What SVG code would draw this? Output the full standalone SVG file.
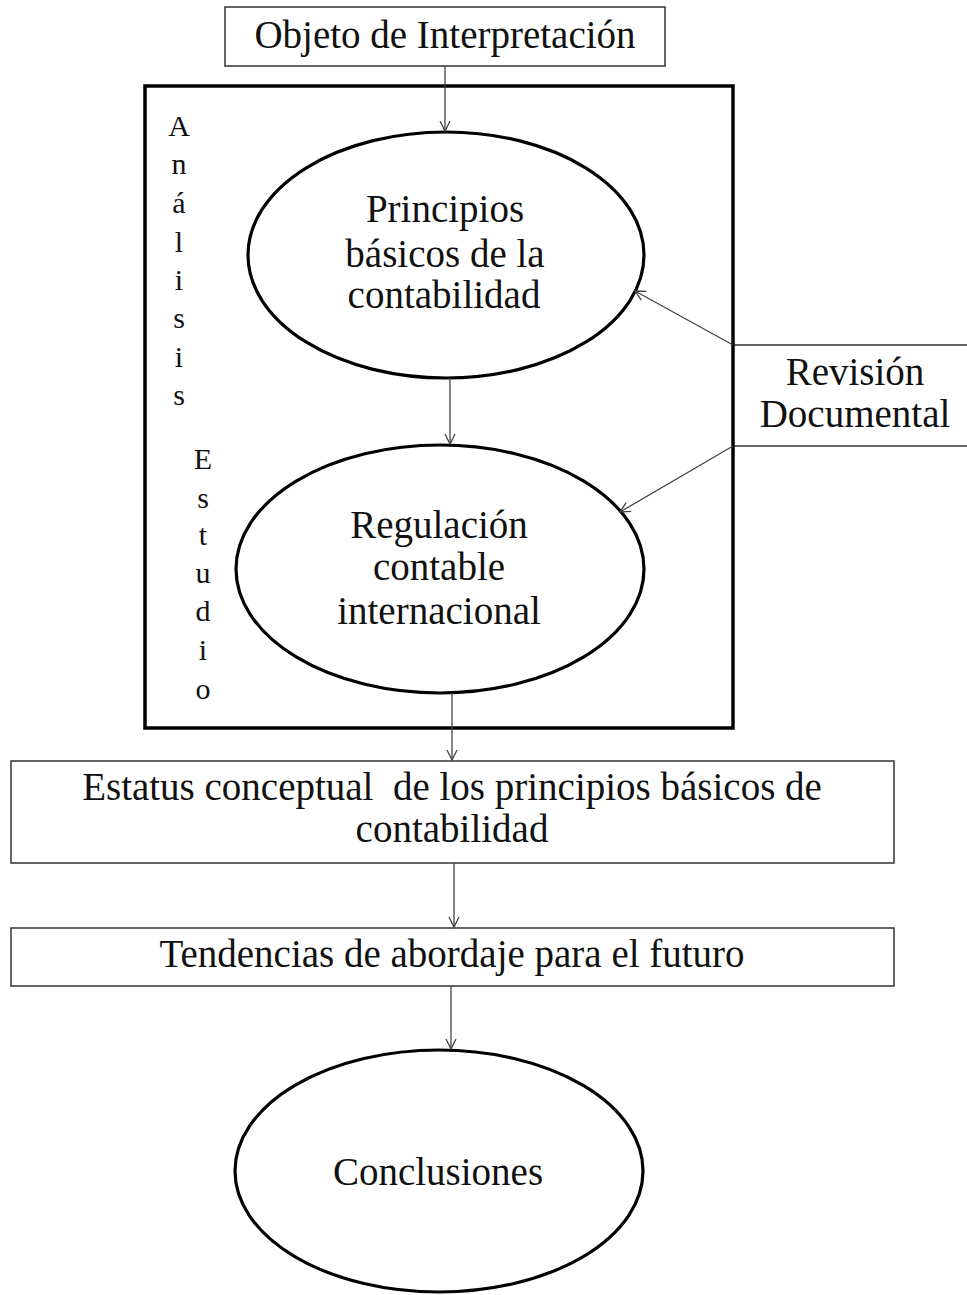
<svg xmlns="http://www.w3.org/2000/svg" width="967" height="1295" viewBox="0 0 967 1295">
<style>
  text { font-family: "Liberation Serif", "Times New Roman", serif; fill: #111; }
  .lbl { font-size: 39px; text-anchor: middle; }
  .vl { font-size: 30px; text-anchor: middle; }
  .box { fill: #fff; stroke: #333; stroke-width: 1.5; }
  .ell { fill: #fff; stroke: #000; stroke-width: 3.2; }
  .frame { fill: none; stroke: #000; stroke-width: 3.5; }
  .conn { fill: none; stroke: #444; stroke-width: 1.3; marker-end: url(#arr); }
</style>
<defs>
  <marker id="arr" markerWidth="14" markerHeight="14" refX="11" refY="6" orient="auto" markerUnits="userSpaceOnUse">
    <path d="M1,1 L11,6 L1,11" fill="none" stroke="#444" stroke-width="1.3"/>
  </marker>
</defs>
<rect width="967" height="1295" fill="#fff"/>

<g id="revision">
  <rect class="box" x="733" y="345" width="260" height="101"/>
  <text class="lbl" x="855" y="385">Revisión</text>
  <text class="lbl" x="855" y="427">Documental</text>
</g>

<g id="frame-analisis-estudio">
  <rect class="frame" x="145" y="86" width="588" height="642"/>
  <g class="vl-analisis">
    <text class="vl" x="179" y="136">A</text>
    <text class="vl" x="179" y="174">n</text>
    <text class="vl" x="179" y="213">á</text>
    <text class="vl" x="179" y="252">l</text>
    <text class="vl" x="179" y="290">i</text>
    <text class="vl" x="179" y="328">s</text>
    <text class="vl" x="179" y="367">i</text>
    <text class="vl" x="179" y="405">s</text>
  </g>
  <g class="vl-estudio">
    <text class="vl" x="203" y="469">E</text>
    <text class="vl" x="203" y="508">s</text>
    <text class="vl" x="203" y="545">t</text>
    <text class="vl" x="203" y="583">u</text>
    <text class="vl" x="203" y="621">d</text>
    <text class="vl" x="203" y="660">i</text>
    <text class="vl" x="203" y="699">o</text>
  </g>
</g>

<g id="objeto">
  <rect class="box" x="225" y="7" width="440" height="59"/>
  <text class="lbl" x="445" y="48">Objeto de Interpretación</text>
</g>

<g id="principios">
  <ellipse class="ell" cx="446" cy="255" rx="198" ry="123"/>
  <text class="lbl" x="445" y="222">Principios</text>
  <text class="lbl" x="445" y="267">básicos de la</text>
  <text class="lbl" x="444" y="308">contabilidad</text>
</g>

<g id="regulacion">
  <ellipse class="ell" cx="440" cy="569" rx="204" ry="124"/>
  <text class="lbl" x="439" y="538">Regulación</text>
  <text class="lbl" x="439" y="580">contable</text>
  <text class="lbl" x="439" y="624">internacional</text>
</g>

<g id="estatus">
  <rect class="box" x="11" y="761" width="883" height="102"/>
  <text class="lbl" x="452" y="800" xml:space="preserve">Estatus conceptual  de los principios básicos de</text>
  <text class="lbl" x="452" y="842">contabilidad</text>
</g>

<g id="tendencias">
  <rect class="box" x="11" y="928" width="883" height="58"/>
  <text class="lbl" x="452" y="967">Tendencias de abordaje para el futuro</text>
</g>

<g id="conclusiones">
  <ellipse class="ell" cx="439" cy="1171" rx="204" ry="121"/>
  <text class="lbl" x="438" y="1185">Conclusiones</text>
</g>

<g id="connectors">
  <line class="conn" x1="445" y1="66" x2="445" y2="131"/>
  <line class="conn" x1="450" y1="378" x2="450" y2="444"/>
  <line class="conn" x1="452" y1="693" x2="452" y2="760"/>
  <line class="conn" x1="454" y1="863" x2="454" y2="927"/>
  <line class="conn" x1="451" y1="986" x2="451" y2="1049"/>
  <line class="conn" x1="733" y1="345" x2="635" y2="291"/>
  <line class="conn" x1="733" y1="446" x2="620" y2="512"/>
</g>
</svg>
